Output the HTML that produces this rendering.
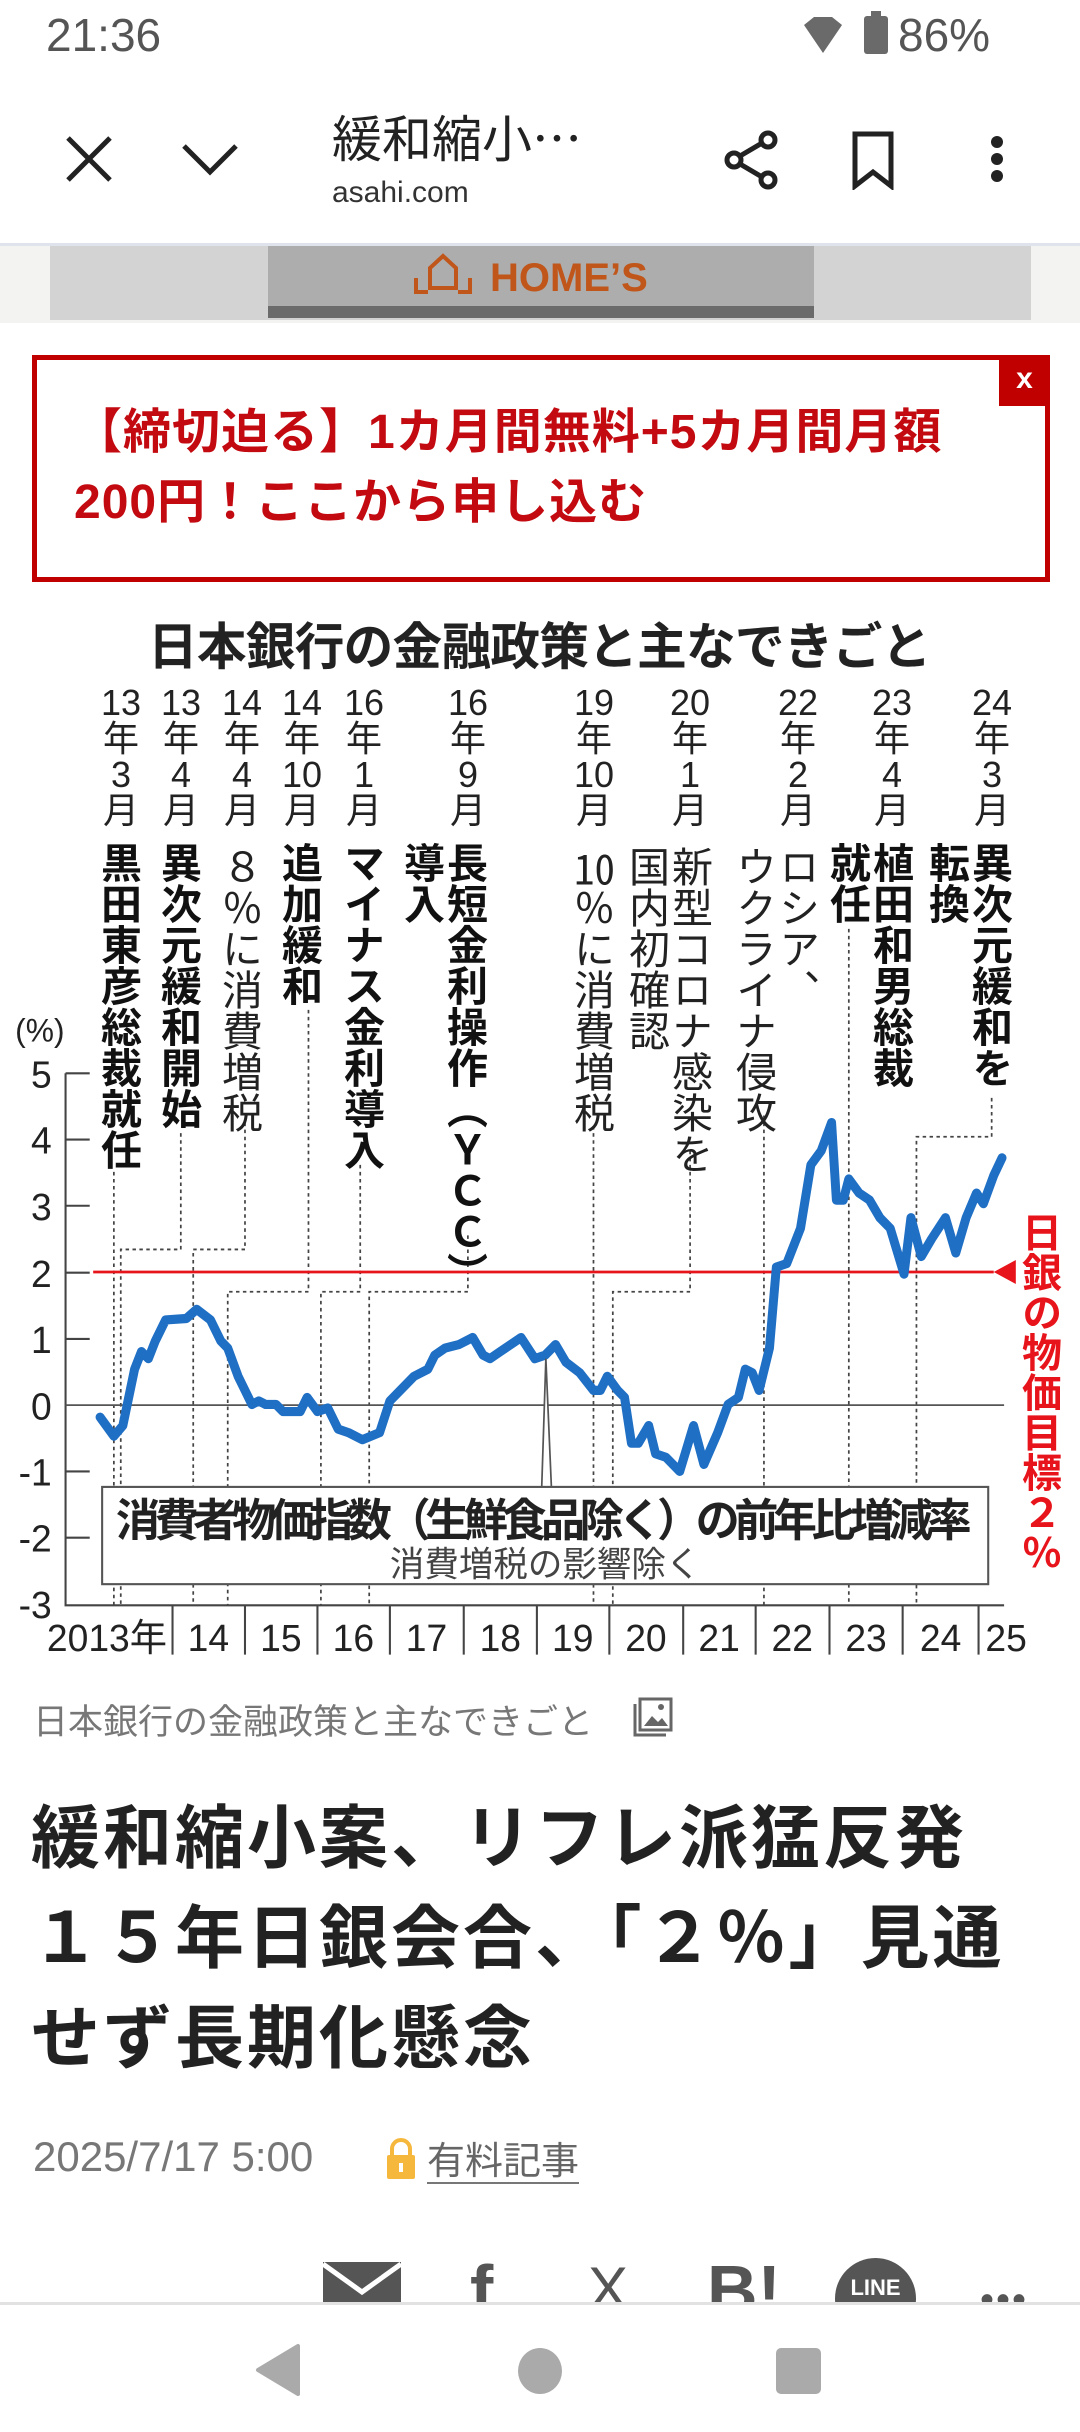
<!DOCTYPE html>
<html><head><meta charset="utf-8"><style>
*{margin:0;padding:0;box-sizing:border-box}
body{width:1080px;height:2432px;background:#fff;position:relative;overflow:hidden;font-family:"Liberation Sans","Noto Sans CJK JP",sans-serif}
.a{position:absolute}
.v{position:absolute;writing-mode:vertical-rl;text-orientation:upright;font-size:41px;line-height:43px;color:#222;white-space:nowrap;font-family:"Noto Sans CJK JP",sans-serif}
.b{font-weight:bold;color:#111}
.d{position:absolute;width:60px;text-align:center;font-size:36px;line-height:36px;color:#222;font-family:"Liberation Sans","Noto Sans CJK JP",sans-serif}
.tcy{text-combine-upright:all}
</style></head><body>
<!-- status bar -->
<div class="a" style="left:46px;top:8px;font-size:46px;color:#555;">21:36</div>
<svg class="a" style="left:800px;top:15px" width="46" height="40" viewBox="0 0 46 40"><path d="M4 10 L14 2 H32 L42 10 L23 38 Z" fill="#6a6a6a"/></svg>
<div class="a" style="left:864px;top:16px;width:24px;height:38px;background:#6a6a6a;border-radius:3px"></div>
<div class="a" style="left:871px;top:11px;width:10px;height:6px;background:#6a6a6a"></div>
<div class="a" style="left:898px;top:8px;font-size:46px;color:#555;">86%</div>
<!-- header -->
<svg class="a" style="left:60px;top:130px" width="60" height="60" viewBox="0 0 60 60"><path d="M8 8 L50 50 M50 8 L8 50" stroke="#222" stroke-width="5"/></svg>
<svg class="a" style="left:180px;top:140px" width="60" height="40" viewBox="0 0 60 40"><path d="M4 6 L30 32 L56 6" stroke="#222" stroke-width="5" fill="none"/></svg>
<div class="a" style="left:332px;top:100px;font-size:50px;color:#222;font-family:'Noto Sans CJK JP',sans-serif">緩和縮小…</div>
<div class="a" style="left:332px;top:176px;font-size:30px;color:#333;">asahi.com</div>
<svg class="a" style="left:720px;top:128px" width="64" height="64" viewBox="0 0 64 64"><g stroke="#222" stroke-width="5" fill="none"><circle cx="48" cy="12" r="7"/><circle cx="14" cy="32" r="7"/><circle cx="48" cy="52" r="7"/><path d="M20 28 L42 15 M20 36 L42 49"/></g></svg>
<svg class="a" style="left:850px;top:130px" width="48" height="60" viewBox="0 0 48 60"><path d="M5 4 H41 V56 L23 42 L5 56 Z" stroke="#222" stroke-width="5" fill="none"/></svg>
<div class="a" style="left:991px;top:136px;width:12px;height:12px;border-radius:50%;background:#222"></div>
<div class="a" style="left:991px;top:153px;width:12px;height:12px;border-radius:50%;background:#222"></div>
<div class="a" style="left:991px;top:170px;width:12px;height:12px;border-radius:50%;background:#222"></div>
<div class="a" style="left:0;top:243px;width:1080px;height:3px;background:#dfe3ec"></div>
<!-- ad -->
<div class="a" style="left:0;top:246px;width:1080px;height:77px;background:#f3f3f1"></div>
<div class="a" style="left:50px;top:246px;width:981px;height:74px;background:#d3d3d3"></div>
<div class="a" style="left:268px;top:246px;width:546px;height:72px;background:#adadad"></div>
<div class="a" style="left:268px;top:306px;width:546px;height:12px;background:#6b6b6b"></div>
<div class="a" style="left:490px;top:256px;font-size:40px;font-weight:bold;color:#c0561a;">HOME’S</div>
<svg class="a" style="left:412px;top:250px" width="62" height="45" viewBox="0 0 62 45"><path d="M4 28 V42 H16 M46 42 H58 V28 M18 38 V18 L31 6 L44 18 V38 Z" stroke="#c0561a" stroke-width="4" fill="none"/></svg>
<!-- red box -->
<div class="a" style="left:32px;top:355px;width:1018px;height:227px;border:5px solid #c00000;"></div>
<div class="a" style="left:999px;top:355px;width:51px;height:51px;background:#c00000;color:#fff;font-size:30px;text-align:center;line-height:48px;font-weight:bold">x</div>
<div class="a" style="left:74px;top:398px;font-size:48px;line-height:70px;font-weight:bold;color:#c20a10;letter-spacing:1px;font-family:'Liberation Sans','Noto Sans CJK JP',sans-serif">【締切迫る】1カ月間無料+5カ月間月額<br>200円！ここから申し込む</div>

<!-- chart -->
<svg class="a" style="left:0;top:580px" width="1080" height="1100" viewBox="0 0 1565 1561" preserveAspectRatio="none" font-family="Liberation Sans, Noto Sans CJK JP, sans-serif">
<text x="782" y="120" text-anchor="middle" font-size="72" font-weight="bold" fill="#222" textLength="1135" font-family="Noto Sans CJK JP, sans-serif">日本銀行の金融政策と主なできごと</text>
<g stroke="#444" stroke-width="2.5" stroke-dasharray="5 5" fill="none">
<path d="M165 840 V1455"/>
<path d="M262 785 V950 H175 V1455"/>
<path d="M355 770 V950 H280 V1455"/>
<path d="M447 610 V1010 H330 V1455"/>
<path d="M522 830 V1010 H465 V1455"/>
<path d="M678 930 V1010 H535 V1455"/>
<path d="M860 775 V1455"/>
<path d="M1000 810 V1010 H888 V1455"/>
<path d="M1107 760 V1455"/>
<path d="M1230 495 V1455"/>
<path d="M1437 735 V790 H1328 V1455"/>
</g>
<g stroke="#444" stroke-width="3" fill="none">
<path d="M95 700 V1455 H1455"/>
<path d="M95 700H130M95 794H130M95 888H130M95 983H130M95 1077H130M95 1265H130M95 1359H130"/>
<path d="M250 1455V1525M355 1455V1525M460 1455V1525M565 1455V1525M672 1455V1525M778 1455V1525M883 1455V1525M990 1455V1525M1095 1455V1525M1202 1455V1525M1308 1455V1525M1418 1455V1525"/>
</g>
<path d="M95 1171 H1455" stroke="#555" stroke-width="2.5"/>
<g font-size="54" fill="#222" text-anchor="end">
<text x="75" y="720">5</text><text x="75" y="814">4</text><text x="75" y="908">3</text><text x="75" y="1003">2</text><text x="75" y="1097">1</text><text x="75" y="1191">0</text><text x="75" y="1285">-1</text><text x="75" y="1379">-2</text><text x="75" y="1473">-3</text>
</g>
<text x="22" y="655" font-size="46" fill="#222">(%)</text>
<g font-size="54" fill="#222" text-anchor="middle">
<text x="155" y="1520">2013年</text><text x="302" y="1520">14</text><text x="407" y="1520">15</text><text x="512" y="1520">16</text><text x="618" y="1520">17</text><text x="725" y="1520">18</text><text x="830" y="1520">19</text><text x="936" y="1520">20</text><text x="1042" y="1520">21</text><text x="1148" y="1520">22</text><text x="1255" y="1520">23</text><text x="1363" y="1520">24</text><text x="1458" y="1520">25</text>
</g>
<path d="M135 982 H1440" stroke="#e8141c" stroke-width="4"/>
<path d="M1440 982 L1472 965 V999 Z" fill="#e8141c"/>
<polyline fill="none" stroke="#1f6fc5" stroke-width="13" stroke-linejoin="round" stroke-linecap="round" points="145,1188 165,1215 178,1200 195,1120 205,1095 215,1105 225,1080 240,1050 270,1048 285,1035 305,1050 320,1080 330,1090 345,1130 355,1150 365,1170 375,1165 385,1170 400,1170 410,1180 435,1180 445,1160 460,1180 475,1175 490,1205 505,1210 525,1220 550,1210 565,1165 580,1150 600,1130 620,1120 630,1100 645,1090 665,1085 685,1075 700,1100 710,1105 725,1095 740,1085 755,1075 775,1105 790,1100 805,1085 820,1110 840,1125 860,1150 870,1150 880,1130 895,1150 905,1160 915,1225 925,1225 940,1200 950,1240 965,1245 985,1265 1005,1200 1020,1255 1040,1210 1055,1170 1070,1160 1080,1120 1090,1125 1100,1150 1115,1090 1125,975 1140,970 1160,920 1175,830 1190,810 1205,770 1212,880 1222,880 1230,850 1245,870 1260,880 1275,905 1290,920 1310,985 1320,905 1335,960 1350,935 1370,905 1385,955 1400,905 1415,870 1425,885 1440,845 1452,820"/>
<path d="M785 1287 L791 1105 L799 1287" stroke="#555" stroke-width="2.5" fill="#fff"/>
<rect x="148" y="1287" width="1284" height="138" fill="#fff" stroke="#555" stroke-width="3"/>
<text x="788" y="1357" text-anchor="middle" font-size="64" font-weight="bold" fill="#222" textLength="1240" font-family="Noto Sans CJK JP, sans-serif">消費者物価指数（生鮮食品除く）の前年比増減率</text>
<text x="790" y="1414" text-anchor="middle" font-size="50" fill="#444" font-family="Noto Sans CJK JP, sans-serif">消費増税の影響除く</text>
</svg>

<!-- dates -->
<div class="d" style="left:91px;top:685px">13<br>年<br>3<br>月</div>
<div class="d" style="left:151px;top:685px">13<br>年<br>4<br>月</div>
<div class="d" style="left:212px;top:685px">14<br>年<br>4<br>月</div>
<div class="d" style="left:272px;top:685px">14<br>年<br>10<br>月</div>
<div class="d" style="left:334px;top:685px">16<br>年<br>1<br>月</div>
<div class="d" style="left:438px;top:685px">16<br>年<br>9<br>月</div>
<div class="d" style="left:564px;top:685px">19<br>年<br>10<br>月</div>
<div class="d" style="left:660px;top:685px">20<br>年<br>1<br>月</div>
<div class="d" style="left:768px;top:685px">22<br>年<br>2<br>月</div>
<div class="d" style="left:862px;top:685px">23<br>年<br>4<br>月</div>
<div class="d" style="left:962px;top:685px">24<br>年<br>3<br>月</div>
<!-- vertical labels -->
<div class="v b" style="left:99.5px;top:842px">黒田東彦総裁就任</div>
<div class="v b" style="left:159.5px;top:842px">異次元緩和開始</div>
<div class="v" style="left:220.5px;top:846px">８％に消費増税</div>
<div class="v b" style="left:280.5px;top:842px">追加緩和</div>
<div class="v b" style="left:342.5px;top:842px">マイナス金利導入</div>
<div class="v b" style="left:402.5px;top:842px">長短金利操作（ＹＣＣ）<br>導入</div>
<div class="v" style="left:572.5px;top:846px"><span class="tcy">10</span>％に消費増税</div>
<div class="v" style="left:627.5px;top:846px">新型コロナ感染を<br>国内初確認</div>
<div class="v" style="left:734.5px;top:846px">ロシア、<br>ウクライナ侵攻</div>
<div class="v b" style="left:828.5px;top:842px">植田和男総裁<br>就任</div>
<div class="v b" style="left:927.5px;top:842px">異次元緩和を<br>転換</div>
<div class="v b" style="left:1021px;top:1212px;color:#e8141c;font-size:40px;line-height:42px">日銀の物価目標２％</div>

<!-- caption -->
<div class="a" style="left:33px;top:1694px;font-size:35px;color:#777;font-family:'Noto Sans CJK JP',sans-serif">日本銀行の金融政策と主なできごと</div>
<svg class="a" style="left:632px;top:1696px" width="42" height="42" viewBox="0 0 42 42"><g stroke="#666" stroke-width="3" fill="none"><rect x="8" y="3" width="31" height="31"/><path d="M3 8 V39 H34"/></g><path d="M12 30 L20 20 L26 26 L30 22 L36 30Z" fill="#666"/><circle cx="29" cy="11" r="3" fill="#666"/></svg>
<!-- headline -->
<div class="a" style="left:31px;top:1782px;font-size:69px;line-height:100px;font-weight:bold;color:#222;letter-spacing:3px;font-family:'Noto Sans CJK JP',sans-serif">緩和縮小案、リフレ派猛反発<br>１５年日銀会合、「２％」見通<br>せず長期化懸念</div>
<!-- date -->
<div class="a" style="left:33px;top:2133px;font-size:42px;color:#777;">2025/7/17 5:00</div>
<svg class="a" style="left:384px;top:2138px" width="34" height="42" viewBox="0 0 34 42"><path d="M8 18 V11 A9 9 0 0 1 26 11 V18" stroke="#f5b83d" stroke-width="4" fill="none"/><rect x="3" y="17" width="28" height="24" rx="2" fill="#f5b83d"/><rect x="15" y="25" width="4" height="9" fill="#fff"/></svg>
<div class="a" style="left:427px;top:2134px;font-size:38px;color:#666;font-family:'Noto Sans CJK JP',sans-serif;border-bottom:2px solid #777;line-height:48px">有料記事</div>
<!-- share icons -->
<div class="a" style="left:0;top:2250px;width:1080px;height:53px;overflow:hidden">
<svg class="a" style="left:323px;top:12px" width="78" height="45" viewBox="0 0 78 45"><rect width="78" height="45" fill="#555"/><path d="M0 2 L39 30 L78 2" stroke="#fff" stroke-width="5" fill="none"/></svg>
<div class="a" style="left:470px;top:0px;font-size:70px;font-weight:bold;color:#555">f</div>
<div class="a" style="left:588px;top:4px;font-size:60px;color:#555">X</div>
<div class="a" style="left:707px;top:0px;font-size:70px;font-weight:bold;color:#555">B!</div>
<div class="a" style="left:835px;top:8px;width:81px;height:81px;border-radius:50%;background:#555;color:#fff;font-size:22px;font-weight:bold;text-align:center;line-height:60px">LINE</div>
<div class="a" style="left:980px;top:28px;font-size:40px;color:#555;letter-spacing:2px">•••</div>
</div>
<!-- nav -->
<div class="a" style="left:0;top:2302px;width:1080px;height:3px;background:#e2e2e2"></div>
<svg class="a" style="left:250px;top:2340px" width="60" height="60" viewBox="0 0 60 60"><path d="M48 6 V54 L8 30 Z" fill="#aaa" stroke="#aaa" stroke-width="4" stroke-linejoin="round"/></svg>
<div class="a" style="left:518px;top:2348px;width:44px;height:46px;border-radius:50%;background:#aaa"></div>
<div class="a" style="left:776px;top:2348px;width:45px;height:46px;border-radius:5px;background:#aaa"></div>
</body></html>
